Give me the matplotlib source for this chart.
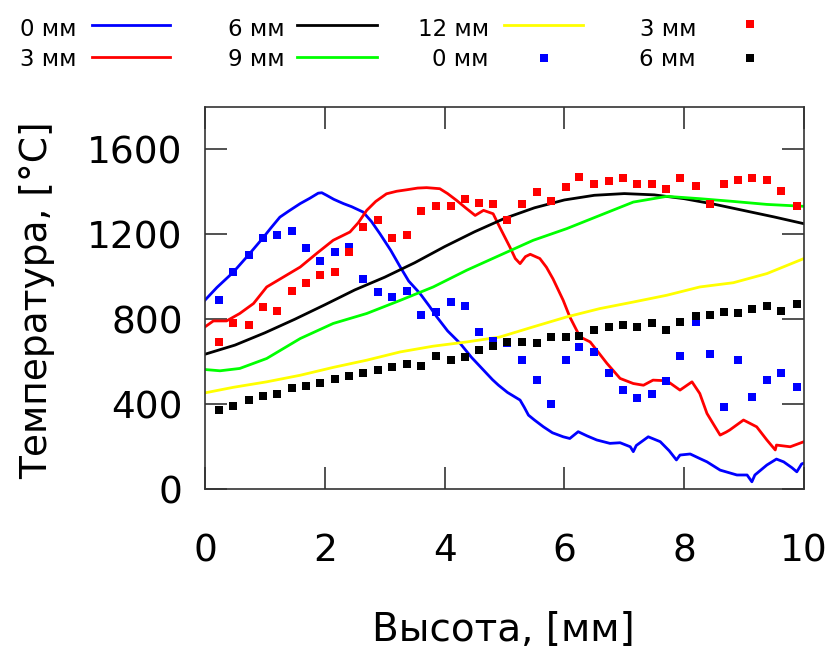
import matplotlib
matplotlib.use("Agg")
import matplotlib.pyplot as plt
from matplotlib.lines import Line2D

plt.rcParams['font.family'] = ['DejaVu Sans']

# calculated profiles (lines)
x_calc0 = [0.0, 0.2, 0.47, 0.73, 0.97, 1.1, 1.25, 1.4, 1.59, 1.75, 1.89, 1.95, 2.03, 2.15, 2.31,
           2.45, 2.64, 2.78, 2.92, 3.1, 3.26, 3.4, 3.59, 3.75, 3.87, 4.05, 4.26, 4.45, 4.65, 4.8,
           4.9, 5.05, 5.26, 5.33, 5.4, 5.5, 5.65, 5.8, 5.98, 6.09, 6.23, 6.38, 6.54, 6.76, 6.93,
           7.1, 7.15, 7.2, 7.4, 7.6, 7.75, 7.87, 7.93, 8.1, 8.25, 8.38, 8.6, 8.88, 9.05, 9.13,
           9.18, 9.38, 9.54, 9.66, 9.8, 9.88, 9.96, 10.0]
t_calc0 = [890, 950, 1021, 1104, 1184, 1230, 1281, 1310, 1345, 1370, 1394, 1396, 1384, 1365, 1345,
           1330, 1305, 1260, 1203, 1125, 1046, 980, 921, 860, 811, 745, 686, 620, 560, 515,
           489, 455, 419, 385, 348, 325, 293, 265, 246, 238, 270, 250, 231, 215, 218,
           199, 176, 205, 246, 223, 180, 137, 160, 165, 145, 128, 89, 66, 66, 34,
           66, 113, 141, 128, 100, 81, 118, 122]

x_calc3 = [0.0, 0.14, 0.36, 0.58, 0.81, 1.03, 1.31, 1.59, 1.86, 2.14, 2.42, 2.56, 2.7, 2.85, 3.03,
           3.2, 3.37, 3.55, 3.7, 3.92, 4.05, 4.2, 4.35, 4.51, 4.65, 4.81, 4.92, 5.09, 5.18, 5.26,
           5.35, 5.43, 5.59, 5.7, 5.81, 5.98, 6.09, 6.26, 6.43, 6.55, 6.71, 6.93, 7.15, 7.32, 7.48,
           7.71, 7.93, 8.13, 8.26, 8.38, 8.5, 8.6, 8.7, 8.76, 8.99, 9.21, 9.38, 9.52, 9.54, 9.77, 10.0]
t_calc3 = [764, 792, 792, 827, 874, 952, 999, 1046, 1109, 1172, 1211, 1255, 1313, 1355, 1391,
           1403, 1410, 1418, 1420, 1415, 1392, 1360, 1325, 1289, 1313, 1297, 1234, 1140, 1086, 1062,
           1095, 1106, 1086, 1045, 990, 889, 811, 717, 693, 650, 592, 521, 497, 489, 513,
           510, 466, 505, 450, 356, 300, 254, 268, 278, 325, 293, 231, 184, 207, 199, 223]

x_calc6 = [0.0, 0.5, 1.0, 1.5, 2.0, 2.5, 3.0, 3.5, 4.0, 4.5, 5.0, 5.5, 6.0, 6.5, 7.0,
           7.5, 8.0, 8.5, 9.0, 9.5, 10.0]
t_calc6 = [635, 678, 736, 800, 868, 938, 998, 1066, 1142, 1212, 1275, 1325, 1362, 1384, 1392,
           1386, 1368, 1342, 1312, 1282, 1250]

x_calc9 = [0.0, 0.25, 0.58, 1.03, 1.59, 2.14, 2.7, 3.26, 3.81, 4.37, 4.92, 5.48, 6.04, 6.59, 7.15,
           7.71, 8.26, 8.82, 9.38, 10.0]
t_calc9 = [563, 557, 568, 615, 709, 780, 827, 889, 952, 1031, 1101, 1172, 1227, 1289, 1352,
           1379, 1368, 1355, 1341, 1332]

x_calc12 = [0.0, 0.47, 1.03, 1.59, 2.14, 2.7, 3.26, 3.81, 4.37, 4.92, 5.48, 6.04, 6.59, 7.15, 7.71,
            8.26, 8.82, 9.38, 10.0]
t_calc12 = [453, 479, 505, 536, 573, 607, 646, 673, 693, 716, 764, 811, 850, 881, 913,
            952, 972, 1015, 1086]

# measured points
x_meas = [0.24, 0.47, 0.73, 0.97, 1.21, 1.45, 1.69, 1.92, 2.17, 2.41, 2.64, 2.89, 3.13, 3.37,
          3.60, 3.86, 4.10, 4.34, 4.57, 4.81, 5.05, 5.30, 5.54, 5.78, 6.02, 6.25, 6.49, 6.75,
          6.98, 7.22, 7.46, 7.70, 7.93, 8.20, 8.43, 8.67, 8.90, 9.14, 9.38, 9.62, 9.88]
t_meas0 = [889, 1021, 1104, 1184, 1195, 1216, 1136, 1074, 1115, 1139, 988, 929, 905, 935,
           820, 834, 881, 863, 740, 698, 690, 607, 513, 400, 607, 667, 646, 547,
           466, 427, 447, 510, 626, 787, 635, 387, 607, 434, 513, 547, 481]
t_meas3 = [693, 780, 775, 858, 839, 935, 969, 1009, 1021, 1115, 1234, 1269, 1183, 1195,
           1310, 1335, 1335, 1368, 1347, 1341, 1269, 1341, 1398, 1357, 1423, 1470, 1435, 1451,
           1464, 1435, 1435, 1415, 1464, 1429, 1341, 1435, 1454, 1464, 1454, 1404, 1335]
t_meas6 = [372, 391, 419, 439, 446, 474, 485, 500, 519, 532, 547, 560, 573, 587,
           579, 626, 607, 620, 654, 674, 693, 693, 689, 714, 714, 720, 748, 761,
           773, 761, 783, 748, 787, 814, 822, 834, 827, 847, 861, 839, 874]

W, H = 836, 653
fig = plt.figure(figsize=(W / 100, H / 100), dpi=100)
ax = fig.add_axes([205 / W, 1 - 489 / H, 599 / W, 382 / H])

lw = 2.0
ax.plot(x_calc0, t_calc0, color='#0000ff', lw=lw)
ax.plot(x_calc3, t_calc3, color='#ff0000', lw=lw)
ax.plot(x_calc6, t_calc6, color='#000000', lw=lw)
ax.plot(x_calc9, t_calc9, color='#00ff00', lw=lw)
ax.plot(x_calc12, t_calc12, color='#ffff00', lw=lw)
ms = 6
ax.plot(x_meas, t_meas0, 's', color='#0000ff', ms=ms, mew=0)
ax.plot(x_meas, t_meas3, 's', color='#ff0000', ms=ms, mew=0)
ax.plot(x_meas, t_meas6, 's', color='#000000', ms=ms, mew=0)

ax.set_xlim(0, 10)
ax.set_ylim(0, 1800)
ax.set_xticks([0, 2, 4, 6, 8, 10])
ax.set_yticks([0, 400, 800, 1200, 1600])
for s in ax.spines.values():
    s.set_color('#333333')
    s.set_linewidth(1.2)
ax.tick_params(axis='both', direction='in', length=16, width=1.2, color='#333333',
               top=True, right=True, labelsize=27)
ax.tick_params(axis='y', pad=16)
ax.tick_params(axis='x', pad=32)

ax.set_xlabel('Высота, [мм]', fontsize=28)
ax.xaxis.set_label_coords((503 - 205) / 599, (489 - 630) / 382)
ax.xaxis.label.set_va('center')
ax.set_ylabel('Температура, [°C]', fontsize=27)
ax.yaxis.set_label_coords((37 - 205) / 599, (489 - 300) / 382)
ax.yaxis.label.set_va('center')

# key at the top, two rows by four columns
def fx(px):
    return px / W

def fy(py):
    return 1 - py / H

entries = [
    ('0 мм', 76, 36, '#0000ff', 'line', 92, 170, 24.5),
    ('3 мм', 76, 66.5, '#ff0000', 'line', 92, 170, 57.3),
    ('6 мм', 285, 36, '#000000', 'line', 297, 377, 24.5),
    ('9 мм', 285, 66.5, '#00ff00', 'line', 297, 377, 57.3),
    ('12 мм', 489, 36, '#ffff00', 'line', 504, 583, 24.5),
    ('0 мм', 489, 66.5, '#0000ff', 'mark', 544, 544, 58.3),
    ('3 мм', 696, 36, '#ff0000', 'mark', 750, 750, 24.3),
    ('6 мм', 696, 66.5, '#000000', 'mark', 750, 750, 58.3),
]
for label, tx, ty, col, kind, x0, x1, ly in entries:
    fig.text(fx(tx), fy(ty), label, ha='right', va='baseline', fontsize=16.5)
    if kind == 'line':
        fig.add_artist(Line2D([fx(x0), fx(x1)], [fy(ly), fy(ly)], color=col, lw=lw,
                              transform=fig.transFigure))
    else:
        fig.add_artist(Line2D([fx(x0)], [fy(ly)], marker='s', color=col, ms=ms, mew=0,
                              transform=fig.transFigure))

fig.savefig('out.png', dpi=100)
